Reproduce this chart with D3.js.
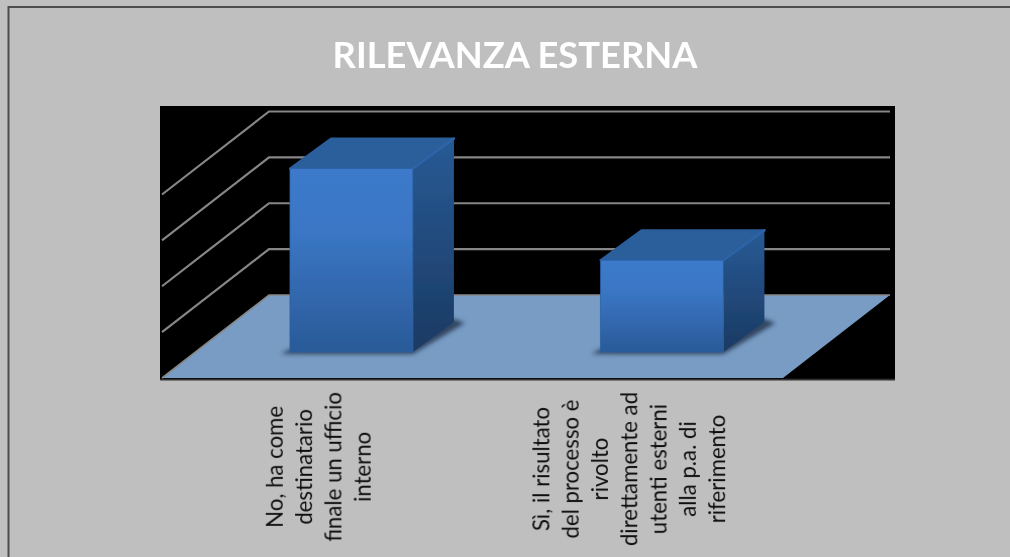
<!DOCTYPE html>
<html><head><meta charset="utf-8">
<script src="https://cdn.jsdelivr.net/npm/d3@7"></script>
<style>html,body{margin:0;padding:0;background:#c0c0c0;overflow:hidden}svg{display:block}</style>
</head><body><div id="c"></div>
<script>
const titleText = "RILEVANZA ESTERNA";
const categories = ["No","Si"];
const values = [4, 2];
const gridTicks = [0, 1, 2, 3, 4];
const labelLines = [
  ["No, ha come","destinatario","finale un ufficio","interno"],
  ["Sì, il risultato","del processo è","rivolto","direttamente ad","utenti esterni","alla p.a. di","riferimento"]
];

const W = 1010, H = 557;
const svg = d3.select("#c").append("svg").attr("width", W).attr("height", H);
const defs = svg.append("defs");

function grad(id, stops, x2, y2) {
  const g = defs.append("linearGradient").attr("id", id)
    .attr("x1", 0).attr("y1", 0).attr("x2", x2).attr("y2", y2);
  stops.forEach(s => g.append("stop").attr("offset", s[0]).attr("stop-color", s[1]));
}
grad("front", [[0, "#3c7acb"], [0.35, "#3a76c4"], [1, "#2a5a98"]], 0, 1);
grad("side", [[0, "#285a95"], [1, "#1b3a63"]], 0, 1);
defs.append("filter").attr("id", "sh").attr("x", "-20%").attr("y", "-20%").attr("width", "140%").attr("height", "140%")
  .append("feGaussianBlur").attr("stdDeviation", 2.2);
defs.append("filter").attr("id", "soft").attr("x", "-5%").attr("y", "-5%").attr("width", "110%").attr("height", "110%")
  .append("feGaussianBlur").attr("stdDeviation", 0.5);

// slide frame
svg.append("rect").attr("width", W).attr("height", H).attr("fill", "#c0c0c0");
svg.append("rect").attr("x", 8.5).attr("y", 7).attr("width", W).attr("height", H).attr("fill", "#bfbfbf")
  .attr("stroke", "#4d4d4d").attr("stroke-width", 2);

// title
svg.append("text").attr("x", 515).attr("y", 68).attr("text-anchor", "middle")
  .attr("font-family", "Lato,sans-serif").attr("font-weight", 700).attr("font-size", 36.3)
  .attr("fill", "#fff").attr("filter", "url(#soft)").text(titleText);

// plot background
const plot = svg.append("g").attr("filter", "url(#soft)");
plot.append("rect").attr("x", 160).attr("y", 106).attr("width", 735).attr("height", 274).attr("fill", "#000");

// scales: x along the floor front edge, y value height, z fraction of floor depth
const x = d3.scaleBand().domain(categories).range([162, 783]).paddingInner(0.604).paddingOuter(0.302);
const y = d3.scaleLinear().domain([0, 4]).range([0, 183.5]);
const zx = d3.scaleLinear().domain([0, 1]).range([0, 107]);
const zy = d3.scaleLinear().domain([0, 1]).range([0, 83]);
const FLOOR_Y = 378;
const P = (px, val, z) => [px + zx(z), FLOOR_Y - zy(z) - y(val)];
const line = d3.line();
const poly = pts => line(pts) + "Z";

// gridlines (wall + back)
const xL = x.range()[0], xR = x.range()[1];
plot.selectAll("path.grid").data(gridTicks.slice(1)).join("path").attr("class", "grid")
  .attr("fill", "none").attr("stroke", "#868686").attr("stroke-width", 2.2)
  .attr("d", d => line([P(xL, d, 0), P(xL, d, 1), P(xR, d, 1)]));

// floor
plot.append("path").attr("d", poly([P(xL, 0, 0), P(xL, 0, 1), P(xR, 0, 1), P(xR, 0, 0)]))
  .attr("fill", "#799cc4");
plot.append("path").attr("d", line([P(xL, 0, 0), P(xL, 0, 1), P(xR, 0, 1)]))
  .attr("fill", "none").attr("stroke", "#868686").attr("stroke-width", 1.6);
plot.append("path").attr("d", line([[160, 379.6], [895, 379.6]])).attr("stroke", "#333").attr("stroke-width", 1.6).attr("fill", "none");

// bars: front face sits at depth Z0, back face is BACK_X / BACK_Y behind it
const Z0 = 0.313, BAR_SHIFT = 0.7, BACK_X = 41, BACK_Y = 30;
const F = (px, val) => { const p = P(px + BAR_SHIFT, val, Z0); return p; };
const B = (px, val) => { const p = F(px, val); return [p[0] + BACK_X, p[1] - BACK_Y]; };
const bars = plot.selectAll("g.bar").data(categories.map((c, i) => ({ c, v: values[i] }))).join("g").attr("class", "bar");
bars.append("path").attr("filter", "url(#sh)").attr("fill", "#23364f").attr("fill-opacity", 0.85)
  .attr("d", d => {
    const a = x(d.c), b = a + x.bandwidth();
    const fa = F(a, 0), fb = F(b, 0), bb = B(b, 0);
    return poly([[fa[0] - 9, fa[1] + 2], [fb[0], fb[1] + 2], [bb[0] + 11, bb[1] + 1], [bb[0], bb[1] - 3], [fa[0], fa[1] - 3]]);
  });
bars.append("path").attr("fill", "#2b5e9c").attr("stroke", "#2b5e9c").attr("stroke-width", 2).attr("stroke-linejoin", "round")
  .attr("d", d => {
    const a = x(d.c), b = a + x.bandwidth();
    return poly([F(a, d.v), B(a, d.v), B(b, d.v), F(b, d.v)]);
  });
bars.append("path").attr("fill", "url(#side)")
  .attr("d", d => {
    const b = x(d.c) + x.bandwidth();
    return poly([F(b, 0), F(b, d.v), B(b, d.v), B(b, 0)]);
  });
bars.append("path").attr("fill", "none").attr("stroke", "#2d64a8").attr("stroke-width", 2.4).attr("stroke-linecap", "round")
  .attr("d", d => {
    const b = x(d.c) + x.bandwidth();
    return line([F(b, d.v), B(b, d.v)]);
  });
bars.append("path").attr("fill", "url(#front)").attr("stroke", "#2c62a6").attr("stroke-width", 0.8).attr("stroke-linejoin", "round")
  .attr("d", d => {
    const a = x(d.c), b = a + x.bandwidth();
    return poly([F(a, 0), F(a, d.v), F(b, d.v), F(b, 0)]);
  });

// axis labels: rotated, wrapped, centred on the longest line
const LINE_H = 29.3, TOP = 392;
const labels = svg.selectAll("g.lab").data(categories).join("g").attr("class", "lab");
labels.each(function (c, i) {
  const g = d3.select(this), lines = labelLines[i];
  const cx = x(c) + x.bandwidth() / 2 + 9.5;
  const t = g.selectAll("text").data(lines).join("text")
    .attr("font-family", "Lato,sans-serif").attr("font-size", 22.2).attr("fill", "#111")
    .attr("text-anchor", "middle").attr("filter", "url(#soft)").text(d => d);
  let maxL = 0;
  t.each(function () { maxL = Math.max(maxL, this.getComputedTextLength()); });
  const cy = TOP + maxL / 2;
  t.attr("transform", (d, k) => `translate(${cx + (k - (lines.length - 1) / 2) * LINE_H},${cy}) rotate(-90)`);
});
</script></body></html>
